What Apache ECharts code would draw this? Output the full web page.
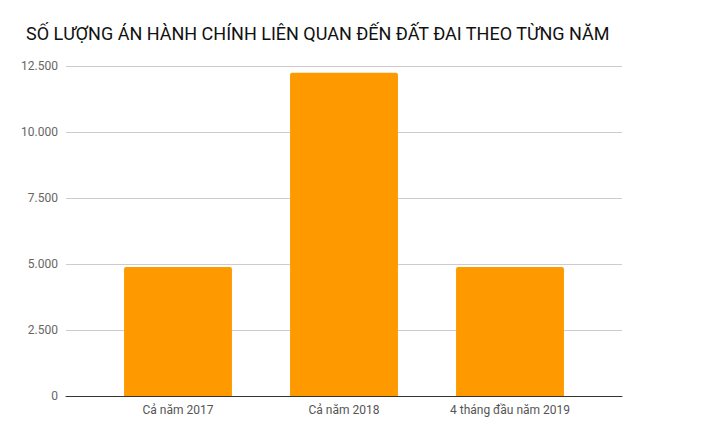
<!DOCTYPE html>
<html>
<head>
<meta charset="utf-8">
<script src="https://cdn.jsdelivr.net/npm/echarts@6/dist/echarts.min.js"></script>
<style>
  html, body { margin: 0; padding: 0; background: #fff; }
  #chart { width: 711px; height: 439px; }
</style>
</head>
<body>
<div id="chart"></div>
<script>
// data
var categories = ['Cả năm 2017', 'Cả năm 2018', '4 tháng đầu năm 2019'];
var counts = [4890, 12240, 4890];
var yTicks = [0, 2500, 5000, 7500, 10000, 12500];

var chart = echarts.init(document.getElementById('chart'), null, { renderer: 'svg' });

function fmt(v) {
  return String(v).replace(/\B(?=(\d{3})+(?!\d))/g, '.');
}

var yMin = yTicks[0], yMax = yTicks[yTicks.length - 1];

// grid 0 carries the gridlines / baseline, grid 1 (inset) carries the bars
chart.setOption({
  animation: false,
  title: {
    text: 'SỐ LƯỢNG ÁN HÀNH CHÍNH LIÊN QUAN ĐẾN ĐẤT ĐAI THEO TỪNG NĂM',
    left: 21,
    top: 19,
    textStyle: { fontFamily: 'Roboto', fontSize: 18, fontWeight: 'normal', color: '#111' }
  },
  grid: [
    { left: 66, right: 89, top: 66, bottom: 43 },
    { left: 95, right: 118, top: 66, bottom: 43 }
  ],
  xAxis: [{
    gridIndex: 0,
    type: 'category',
    data: [''],
    axisLine: { lineStyle: { color: '#333', width: 1 } },
    axisTick: { show: false },
    axisLabel: { show: false }
  }, {
    gridIndex: 1,
    type: 'category',
    data: categories,
    axisLine: { show: false },
    axisTick: { show: false },
    axisLabel: { color: '#555', fontFamily: 'Roboto', fontSize: 12, margin: 8 }
  }],
  yAxis: [{
    gridIndex: 0,
    type: 'value',
    min: yMin,
    max: yMax,
    interval: 2500,
    axisLine: { show: false },
    axisTick: { show: false },
    axisLabel: { color: '#666', fontFamily: 'Roboto', fontSize: 12, margin: 8, formatter: fmt },
    splitLine: { lineStyle: { color: '#ccc' } }
  }, {
    gridIndex: 1,
    type: 'value',
    min: yMin,
    max: yMax,
    interval: 2500,
    show: false,
    splitLine: { show: false }
  }],
  series: [{
    type: 'bar',
    xAxisIndex: 1,
    yAxisIndex: 1,
    data: counts,
    barWidth: '65%',
    itemStyle: { color: '#ff9900', borderRadius: [2, 2, 0, 0] }
  }]
});
</script>
</body>
</html>
